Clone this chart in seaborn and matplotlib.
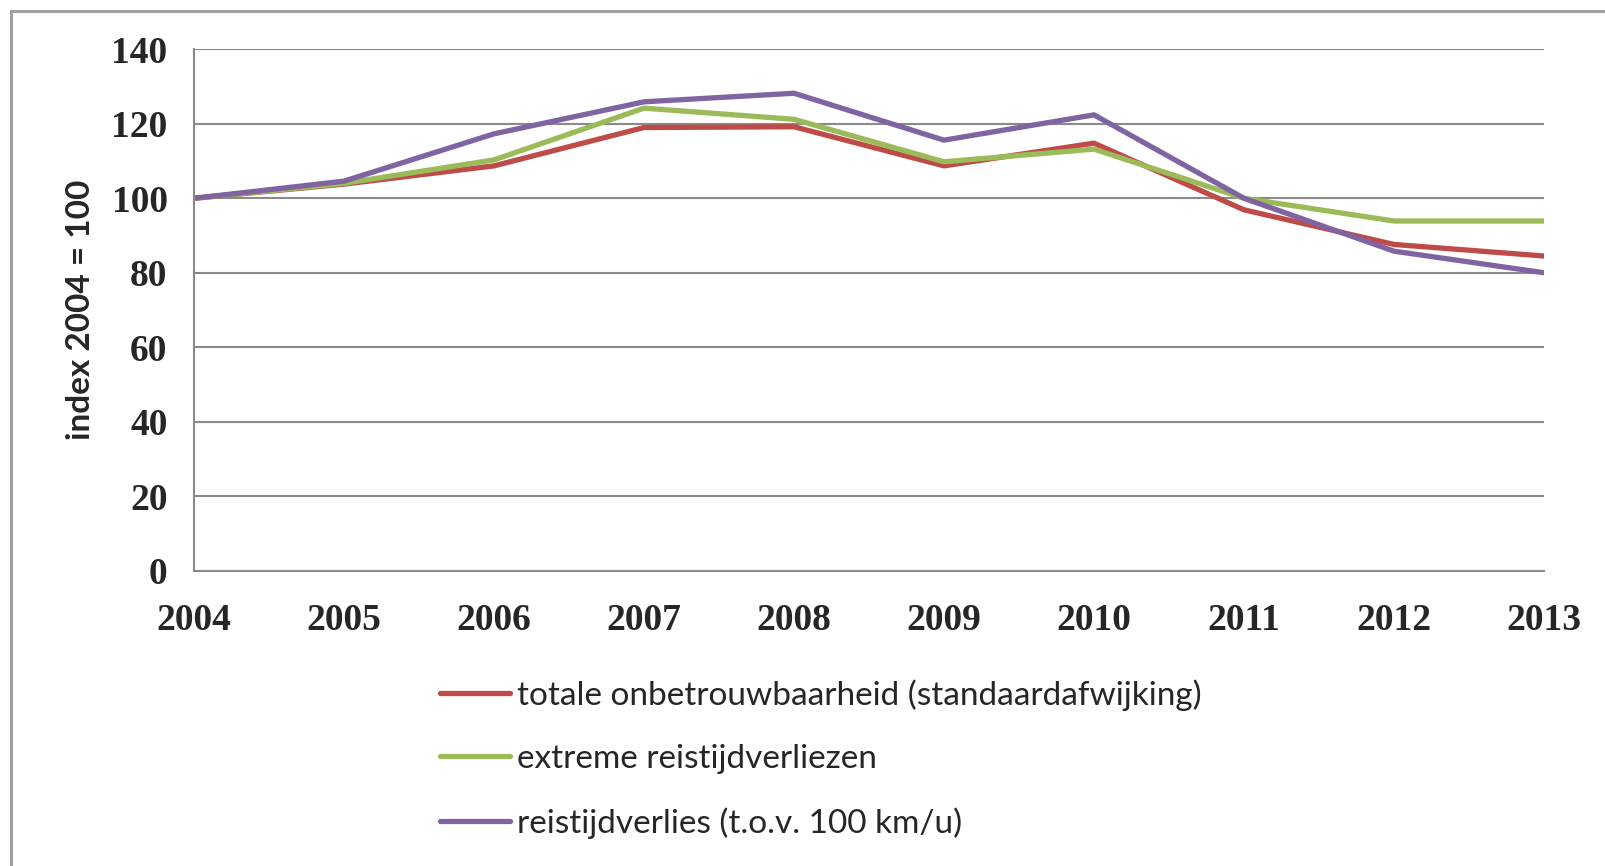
import matplotlib
matplotlib.use("Agg")
import matplotlib.pyplot as plt
import seaborn as sns
import pandas as pd
from matplotlib.patches import Rectangle
from matplotlib.lines import Line2D

years = [2004, 2005, 2006, 2007, 2008, 2009, 2010, 2011, 2012, 2013]
totale = [100, 103.8, 108.7, 119.0, 119.2, 108.7, 114.8, 96.9, 87.6, 84.5]
extreme = [100, 104.0, 110.3, 124.2, 121.2, 109.8, 113.2, 100.0, 93.9, 93.9]
reistijd = [100, 104.6, 117.3, 125.9, 128.2, 115.6, 122.4, 100.0, 85.8, 80.0]
labels = ["totale onbetrouwbaarheid (standaardafwijking)",
          "extreme reistijdverliezen",
          "reistijdverlies (t.o.v. 100 km/u)"]
colors = ["#BE4B48", "#9BBB59", "#8064A2"]
y_ticks = [0, 20, 40, 60, 80, 100, 120, 140]
y_label = "index 2004 = 100"

df = pd.concat([
    pd.DataFrame({"jaar": years, "index": vals, "reeks": lab})
    for vals, lab in zip([totale, extreme, reistijd], labels)
])

sns.set_style("white")
plt.rcParams["font.family"] = ["Lato", "DejaVu Sans"]

fig = plt.figure(figsize=(16.06, 8.66), dpi=100)
ax = fig.add_axes([194 / 1606, 1 - 570.7 / 866, (1544 - 194) / 1606, (570.7 - 49.3) / 866])

sns.lineplot(data=df, x="jaar", y="index", hue="reeks", palette=colors,
             linewidth=3.8, ax=ax, legend=False, solid_capstyle="round")

ax.set_xlim(2004, 2013)
ax.set_ylim(0, 140)
ax.set_yticks(y_ticks)
ax.set_xticks(years)
ax.yaxis.grid(True, color="#8a8a8a", linewidth=1.5)
ax.set_axisbelow(True)
for s in ["top", "right"]:
    ax.spines[s].set_visible(False)
for s in ["left", "bottom"]:
    ax.spines[s].set_color("#8a8a8a")
    ax.spines[s].set_linewidth(1.5)
ax.tick_params(axis="both", direction="out", length=11, width=1.5, color="#8a8a8a",
               labelsize=27)
for t in ax.get_xticklabels() + ax.get_yticklabels():
    t.set_family(["Liberation Serif", "DejaVu Serif"])
    t.set_fontweight("bold")
ax.tick_params(axis="y", pad=8)
ax.tick_params(axis="x", pad=12)
ax.set_xlabel("")
ax.set_ylabel(y_label, fontsize=24, fontweight="bold", labelpad=12)

handles = [Line2D([0], [0], color=c, linewidth=3.8) for c in colors]
fig.legend(handles, labels, loc="upper left", bbox_to_anchor=(440 / 1606, 1 - 679 / 866),
           frameon=False, fontsize=24, handlelength=2.1, handletextpad=0.2,
           labelspacing=1.0, borderpad=0, borderaxespad=0)

fig.patches.append(Rectangle((11 / 1606, -0.1), 1.2, 1 - 11 / 866 + 0.1,
                             transform=fig.transFigure, fill=False,
                             edgecolor="#a0a0a0", linewidth=2.2))

fig.savefig("out.png", dpi=100)
